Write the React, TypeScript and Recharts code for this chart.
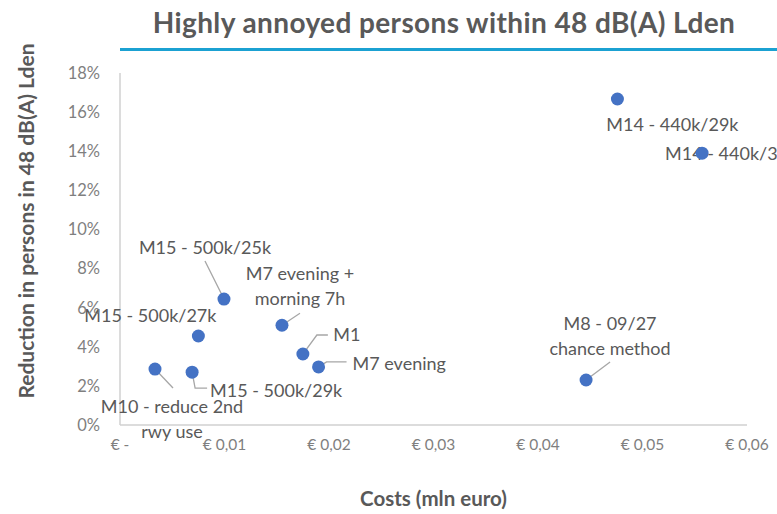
import React from "react";
import { ScatterChart, Scatter, XAxis, YAxis, Label } from "recharts";

// ---- data ----
const measureNames = [
  "M14 - 440k/29k",
  "M14 - 440k/32k",
  "M8 - 09/27\nchance method",
  "M15 - 500k/25k",
  "M7 evening +\nmorning 7h",
  "M15 - 500k/27k",
  "M1",
  "M7 evening",
  "M15 - 500k/29k",
  "M10 - reduce 2nd\nrwy use",
];
const costsMlnEuro = [0.0476, 0.0557, 0.0446, 0.00995, 0.0155, 0.0075, 0.0175, 0.019, 0.0069, 0.00335];
const reductionShare = [0.1667, 0.139, 0.023, 0.0644, 0.051, 0.0455, 0.0363, 0.0297, 0.027, 0.0286];
const xTicks = [0, 0.01, 0.02, 0.03, 0.04, 0.05, 0.06];
const yTicks = [0, 0.02, 0.04, 0.06, 0.08, 0.1, 0.12, 0.14, 0.16, 0.18];

// ---- label layout (offsets from each point, in px) ----
type Layout = { dx: number; dy: number; anchor: "start" | "middle" | "end"; leader?: number[][] };
const labelLayout: Layout[] = [
  { dx: 55, dy: 25, anchor: "middle" },
  { dx: -37, dy: 0, anchor: "start" },
  { dx: 24, dy: -57, anchor: "middle", leader: [[0, 0], [24, -18]] },
  { dx: -19, dy: -52, anchor: "middle", leader: [[0, 0], [-19, -38]] },
  { dx: 18, dy: -52, anchor: "middle", leader: [[0, 0], [18, -12]] },
  { dx: -48, dy: -21, anchor: "middle" },
  { dx: 44, dy: -20, anchor: "middle", leader: [[0, 0], [14, -19], [25, -19]] },
  { dx: 34, dy: -4, anchor: "start", leader: [[0, 0], [8, -5], [28, -5]] },
  { dx: 18, dy: 18, anchor: "start", leader: [[0, 0], [3, 16], [15, 16]] },
  { dx: 17, dy: 37, anchor: "middle", leader: [[0, 0], [18, 19]] },
];

const data = measureNames.map((name, i) => ({
  name,
  cost: costsMlnEuro[i],
  reduction: reductionShare[i],
  idx: i,
}));

const FONT = "Lato, 'Open Sans', sans-serif";
const TEXT = "#595959";
const TICK = "#7f7f7f";

const fmtX = (v: number) => (v === 0 ? "€ -" : "€ " + v.toFixed(2).replace(".", ","));
const fmtY = (v: number) => Math.round(v * 100) + "%";

const PointShape = (props: any) => {
  const { cx, cy, payload } = props;
  const lay = labelLayout[payload.idx];
  const lines = String(payload.name).split("\n");
  return (
    <g>
      {lay.leader && (
        <polyline
          points={lay.leader.map((p) => `${cx + p[0]},${cy + p[1]}`).join(" ")}
          fill="none"
          stroke="#a6a6a6"
          strokeWidth={1.3}
        />
      )}
      <text
        x={cx + lay.dx}
        y={cy + lay.dy}
        textAnchor={lay.anchor}
        fontFamily={FONT}
        fontSize={18}
        fill={TEXT}
        dominantBaseline="central"
      >
        {lines.map((l, k) => (
          <tspan key={k} x={cx + lay.dx} dy={k === 0 ? 0 : 24.5}>
            {l}
          </tspan>
        ))}
      </text>
      <circle cx={cx} cy={cy} r={6.5} fill="#4472c4" />
    </g>
  );
};

export default function App() {
  return (
    <div style={{ position: "absolute", left: 0, top: 0, width: 777, height: 514, background: "#fff" }}>
      <div
        style={{
          position: "absolute",
          left: 100,
          width: 688,
          top: 5,
          textAlign: "center",
          fontFamily: FONT,
          fontWeight: 700,
          fontSize: 28,
          letterSpacing: 0.4,
          color: TEXT,
          whiteSpace: "nowrap",
        }}
      >
        Highly annoyed persons within 48 dB(A) Lden
      </div>
      <div style={{ position: "absolute", left: 120, top: 48, width: 657, height: 2.5, background: "#1ba1d2" }} />
      <div style={{ position: "absolute", left: 0, top: 0 }}>
        <ScatterChart width={777} height={514} margin={{ top: 73, right: 30, bottom: 0, left: 0 }}>
          <XAxis
            type="number"
            dataKey="cost"
            domain={[0, 0.06]}
            ticks={xTicks}
            tickFormatter={fmtX}
            interval={0}
            height={89}
            tickSize={0}
            tickMargin={14}
            axisLine={{ stroke: "#d0d0d0", strokeWidth: 1.5 }}
            tick={{ fill: TICK, fontSize: 15.5, fontFamily: FONT }}
          >
            <Label
              value="Costs (mln euro)"
              position="insideBottom"
              offset={8}
              style={{ fill: TEXT, fontSize: 20.5, fontWeight: 700, fontFamily: FONT }}
            />
          </XAxis>
          <YAxis
            type="number"
            dataKey="reduction"
            domain={[0, 0.18]}
            ticks={yTicks}
            tickFormatter={fmtY}
            interval={0}
            width={120}
            tickSize={0}
            tickMargin={20}
            axisLine={{ stroke: "#d0d0d0", strokeWidth: 1.5 }}
            tick={{ fill: TICK, fontSize: 16.5, fontFamily: FONT }}
          >
            <Label
              content={() => (
                <text
                  x={25}
                  y={221}
                  transform="rotate(-90 25 221)"
                  textAnchor="middle"
                  dominantBaseline="central"
                  fill={TEXT}
                  fontSize={21}
                  fontWeight={700}
                  fontFamily={FONT}
                >
                  Reduction in persons in 48 dB(A) Lden
                </text>
              )}
            />
          </YAxis>
          <Scatter data={data} shape={PointShape} isAnimationActive={false} />
        </ScatterChart>
      </div>
    </div>
  );
}
